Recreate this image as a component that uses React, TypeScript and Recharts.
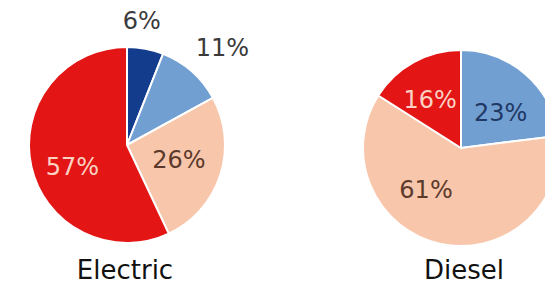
import { PieChart, Pie, Cell } from "recharts";

const electricNames = ["Navy", "Blue", "Peach", "Red"];
const electricValues = [6, 11, 26, 57];
const dieselNames = ["Blue", "Peach", "Red"];
const dieselValues = [23, 61, 16];

const FILL: Record<string, string> = {
  Navy: "#143C8C",
  Blue: "#729FD1",
  Peach: "#F8C6AB",
  Red: "#E31515",
};
const LABEL_COLOR: Record<string, string> = {
  Navy: "#3A3A3A",
  Blue: "#1F3864",
  Peach: "#5B3A2C",
  Red: "#FAD2C4",
};
// label placement per slice: radius factor and an angle nudge (degrees)
const ELECTRIC_PLACE = [
  { k: 1.27, da: 4, color: "#3A3A3A" },
  { k: 1.39, da: -3, color: "#3A3A3A" },
  { k: 0.55, da: 2, color: LABEL_COLOR.Peach },
  { k: 0.6, da: 9, color: LABEL_COLOR.Red },
];
const DIESEL_PLACE = [
  { k: 0.54, da: -7, color: LABEL_COLOR.Blue },
  { k: 0.56, da: -27, color: LABEL_COLOR.Peach },
  { k: 0.58, da: 4, color: LABEL_COLOR.Red },
];

const W = 545;
const H = 286;
const R = 98;
const FONT = "'DejaVu Sans', Verdana, sans-serif";

const toRows = (names: string[], values: number[]) =>
  names.map((n, i) => ({ name: n, value: values[i] }));

function makeLabel(place: { k: number; da: number; color: string }[]) {
  return (p: any) => {
    const pl = place[p.index];
    const a = ((p.midAngle + pl.da) * Math.PI) / 180;
    const x = p.cx + p.outerRadius * pl.k * Math.cos(a);
    const y = p.cy - p.outerRadius * pl.k * Math.sin(a);
    return (
      <text
        x={x} y={y} fill={pl.color} fontSize={24} fontFamily={FONT}
        textAnchor="middle" dominantBaseline="central"
      >
        {`${p.value}%`}
      </text>
    );
  };
}

export default function App() {
  const electric = toRows(electricNames, electricValues);
  const diesel = toRows(dieselNames, dieselValues);
  return (
    <div style={{ position: "absolute", left: 0, top: 0, width: W, height: H, background: "#fff", overflow: "hidden" }}>
      <PieChart width={W} height={H} margin={{ top: 0, right: 0, bottom: 0, left: 0 }}>
        <Pie
          data={electric} dataKey="value" nameKey="name"
          cx={127} cy={145} outerRadius={R} startAngle={90} endAngle={-270}
          stroke="#fff" strokeWidth={2} labelLine={false}
          label={makeLabel(ELECTRIC_PLACE)} isAnimationActive={false}
        >
          {electric.map((d) => <Cell key={d.name} fill={FILL[d.name]} />)}
        </Pie>
        <Pie
          data={diesel} dataKey="value" nameKey="name"
          cx={461} cy={148} outerRadius={R} startAngle={90} endAngle={-270}
          stroke="#fff" strokeWidth={2} labelLine={false}
          label={makeLabel(DIESEL_PLACE)} isAnimationActive={false}
        >
          {diesel.map((d) => <Cell key={d.name} fill={FILL[d.name]} />)}
        </Pie>
      </PieChart>
      <div style={{ position: "absolute", left: 25, width: 200, top: 258, textAlign: "center", fontFamily: FONT, fontSize: 26, color: "#111", lineHeight: "24px" }}>
        Electric
      </div>
      <div style={{ position: "absolute", left: 364, width: 200, top: 258, textAlign: "center", fontFamily: FONT, fontSize: 26, color: "#111", lineHeight: "24px" }}>
        Diesel
      </div>
    </div>
  );
}
